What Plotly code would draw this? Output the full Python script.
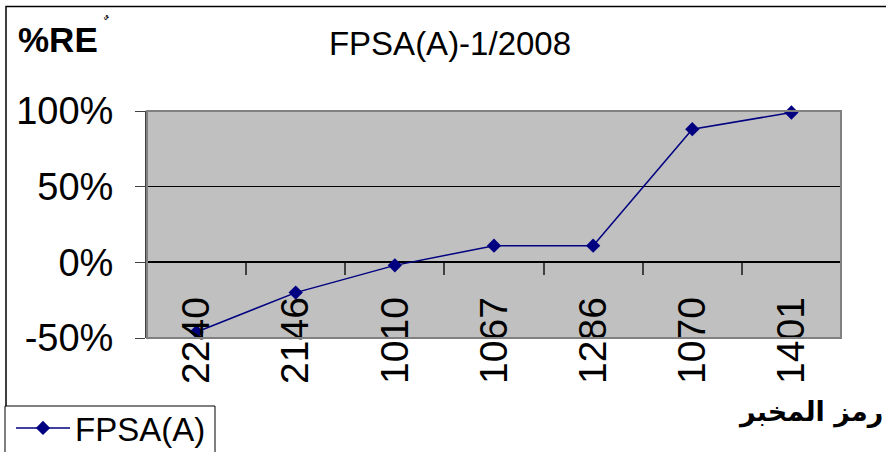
import plotly.graph_objects as go

# lab codes (x categories) and relative error values (fraction)
lab_codes = ["2240", "2146", "1010", "1067", "1286", "1070", "1401"]
re_values = [-0.46, -0.20, -0.02, 0.11, 0.11, 0.88, 0.99]
series_name = "FPSA(A)"
y_tick_vals = [-0.5, 0, 0.5, 1.0]
y_tick_text = ["-50%", "0%", "50%", "100%"]

W, H = 886, 452
L, R, T, B = 147, 45, 111, 114
PW, PH = W - L - R, H - T - B


def px_x(x):
    return (x - L) / PW


def px_y(y):
    return (H - B - y) / PH


fig = go.Figure()
fig.add_trace(go.Scatter(
    x=lab_codes, y=re_values, name=series_name,
    mode="lines+markers",
    line=dict(color="#000080", width=1.5),
    marker=dict(symbol="diamond", size=11, color="#000080"),
    cliponaxis=False,
))

# plot area frame
fig.add_shape(type="rect", xref="paper", yref="paper", x0=0, x1=1, y0=0, y1=1,
              line=dict(color="#808080", width=2), layer="above")
# outer chart border
fig.add_shape(type="rect", xref="paper", yref="paper",
              x0=px_x(6), x1=px_x(895), y0=px_y(470), y1=px_y(6.5),
              line=dict(color="black", width=1.5), layer="below")
# legend box
fig.add_shape(type="rect", xref="paper", yref="paper",
              x0=px_x(5), x1=px_x(215), y0=px_y(470), y1=px_y(406),
              line=dict(color="black", width=1), fillcolor="white", layer="below")

fig.add_annotation(text="<b>%RE</b>", xref="paper", yref="paper",
                   x=px_x(16), y=px_y(39), xanchor="left", yanchor="middle",
                   showarrow=False, font=dict(family="Liberation Sans", size=35, color="black"))
fig.add_annotation(text="ﹲ", xref="paper", yref="paper",
                   x=px_x(102), y=px_y(23), xanchor="left", yanchor="middle",
                   showarrow=False, font=dict(family="DejaVu Sans", size=16, color="black"))
fig.add_annotation(text="<b>رمز المخبر</b>", xref="paper", yref="paper",
                   x=px_x(885), y=px_y(412), xanchor="right", yanchor="middle",
                   showarrow=False, font=dict(family="DejaVu Sans", size=27, color="black"))

fig.update_layout(
    width=W, height=H,
    margin=dict(l=L, r=R, t=T, b=B, autoexpand=False),
    paper_bgcolor="white",
    plot_bgcolor="#C0C0C0",
    font=dict(family="Liberation Sans, Arial", color="black"),
    title=dict(text="FPSA(A)-1/2008", x=450 / W, xref="container", xanchor="center",
               y=1 - 43 / H, yref="container", yanchor="middle",
               font=dict(size=33, color="black")),
    showlegend=True,
    legend=dict(xref="container", yref="container", x=5 / W, y=1 - 400 / H,
                xanchor="left", yanchor="top", bgcolor="rgba(0,0,0,0)",
                borderwidth=0, indentation=6,
                font=dict(size=33, color="black"),
                itemwidth=54, tracegroupgap=0),
)

fig.update_xaxes(
    type="category", anchor="free", position=1 / 3, automargin=False,
    showgrid=False, showline=False, zeroline=False,
    ticks="outside", tickson="boundaries", ticklen=12, tickcolor="#404040", tickwidth=1.5,
    tickangle=-90, ticklabelstandoff=26,
    tickfont=dict(size=39, color="black"),
    range=[-0.5, 6.5],
)
fig.update_yaxes(
    range=[-0.5, 1.0], tickvals=y_tick_vals, ticktext=y_tick_text, automargin=False,
    showgrid=True, gridcolor="black", gridwidth=1,
    zeroline=True, zerolinecolor="black", zerolinewidth=1.5,
    showline=True, linecolor="#404040", linewidth=2,
    ticks="outside", ticklen=10, tickcolor="#404040",
    ticklabelstandoff=14,
    tickfont=dict(size=38, color="black"),
)

fig.write_html("out.html", config={"displayModeBar": False},
               post_script="document.body.style.margin = '0';")
